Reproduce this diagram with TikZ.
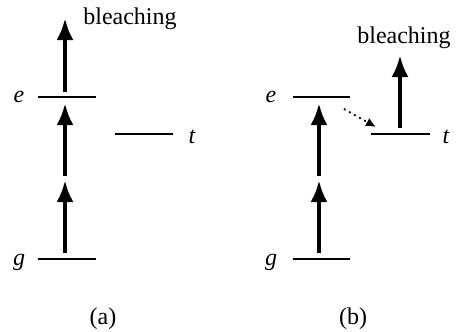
\documentclass[tikz,border=0pt]{standalone}
\usepackage{fontspec}
\setmainfont{Liberation Serif}
\usetikzlibrary{arrows.meta}
\begin{document}
\begin{tikzpicture}[x=0.5pt,y=-0.5pt,
  level/.style={line width=1.4pt},
  pump/.style={line width=2.2pt,-{Latex[length=11pt,width=8.5pt]}},
  isc/.style={line width=0.9pt,dotted,-{Latex[length=5pt,width=4.5pt]}},
  lab/.style={inner sep=0pt,font=\fontsize{12}{14}\selectfont\itshape},
  txt/.style={inner sep=0pt,font=\fontsize{12}{14}\selectfont}]
\useasboundingbox (0,0) rectangle (456,332);
% panel (a)
\coordinate (ae1) at (38,97); \coordinate (ae2) at (96,97);
\coordinate (ag1) at (38,259); \coordinate (ag2) at (96,259);
\coordinate (at1) at (115,134); \coordinate (at2) at (173,134);
\draw[level] (ae1) -- (ae2);
\draw[level] (ag1) -- (ag2);
\draw[level] (at1) -- (at2);
\node[lab] (ael) at (19,97) {e};
\node[lab] (agl) at (19,262) {g};
\node[lab] (atl) at (192,137) {t};
\coordinate (aa1s) at (65,253); \coordinate (aa1e) at (65,180);
\coordinate (aa2s) at (65,176); \coordinate (aa2e) at (65,103);
\coordinate (aa3s) at (65,92); \coordinate (aa3e) at (65,18);
\draw[pump] (aa1s) -- (aa1e);
\draw[pump] (aa2s) -- (aa2e);
\draw[pump] (aa3s) -- (aa3e);
\node[txt,anchor=base] (ableach) at (130,25) {bleaching};
\node[txt] (acap) at (103,319) {(a)};
% panel (b)
\coordinate (be1) at (293,97); \coordinate (be2) at (350,97);
\coordinate (bg1) at (293,259); \coordinate (bg2) at (350,259);
\coordinate (bt1) at (371,134); \coordinate (bt2) at (430,134);
\draw[level] (be1) -- (be2);
\draw[level] (bg1) -- (bg2);
\draw[level] (bt1) -- (bt2);
\node[lab] (bel) at (271,97) {e};
\node[lab] (bgl) at (271,262) {g};
\node[lab] (btl) at (446,137) {t};
\coordinate (ba1s) at (319,253); \coordinate (ba1e) at (319,180);
\coordinate (ba2s) at (319,176); \coordinate (ba2e) at (319,103);
\coordinate (ba3s) at (400,128); \coordinate (ba3e) at (400,55);
\draw[pump] (ba1s) -- (ba1e);
\draw[pump] (ba2s) -- (ba2e);
\draw[pump] (ba3s) -- (ba3e);
\coordinate (bis) at (344,109); \coordinate (bie) at (376,127);
\draw[isc] (bis) -- (bie);
\node[txt,anchor=base] (bbleach) at (404,43) {bleaching};
\node[txt] (bcap) at (353,319) {(b)};
\end{tikzpicture}
\end{document}
